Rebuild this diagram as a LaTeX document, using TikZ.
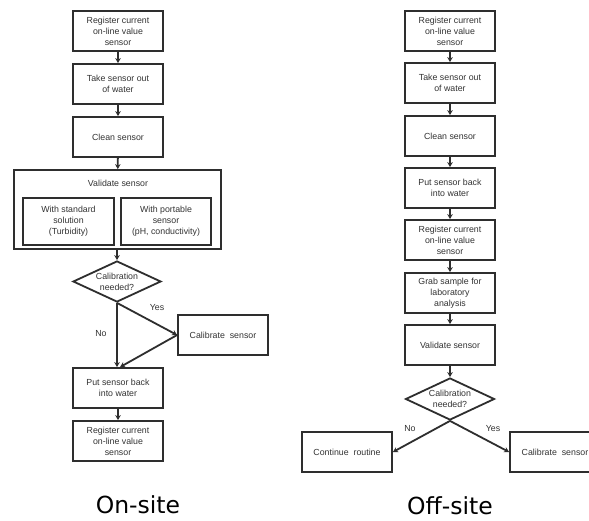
\documentclass[tikz,border=0pt]{standalone}
\usepackage{fontspec}
\setmainfont{Liberation Sans}
\newfontfamily\capfont{DejaVu Sans}
\usetikzlibrary{arrows.meta,shapes.geometric}
\definecolor{ln}{HTML}{2E2E2E}
\definecolor{tx}{HTML}{333333}
\tikzset{
  box/.style={draw=ln, line width=1.8pt, rectangle, minimum width=90pt, minimum height=40pt,
    inner sep=1pt, align=center, font=\fontsize{8.8}{11}\selectfont, text=tx},
  dia/.style={draw=ln, line width=1.8pt, diamond, minimum width=88pt, minimum height=41pt, inner sep=0pt},
  lbl/.style={font=\fontsize{8.8}{11}\selectfont, text=tx, align=center, inner sep=0pt},
  arr/.style={draw=ln, line width=1.8pt, -{Stealth[length=5pt,width=5.5pt]}},
  captext/.style={font=\capfont\fontsize{23.5}{27}\selectfont, text=black}
}
\begin{document}
\begin{tikzpicture}[x=1pt,y=-1pt]
\path[fill=white,use as bounding box] (0,0) rectangle (589,520);
% ---------- On-site ----------
\node[box] (l1) at (118,31) {Register current\\on-line value\\sensor};
\node[box] (l2) at (118,84) {Take sensor out\\of water};
\node[box] (l3) at (118,137) {Clean sensor};
\node[box, minimum width=207pt, minimum height=79pt] (lv) at (117.5,209.5) {};
\node[lbl] (lvt) at (118,183) {Validate sensor};
\node[box, minimum width=91pt, minimum height=47pt] (lva) at (68.5,221.5) {With standard\\solution\\(Turbidity)};
\node[box, minimum width=90pt, minimum height=47pt] (lvb) at (166,221.5) {With portable\\sensor\\(pH, conductivity)};
\node[dia, label={[lbl]center:Calibration\\needed?}] (ld) at (117,281.5) {};
\node[box] (lc) at (223,335) {Calibrate\ \ sensor};
\node[box] (l4) at (118,388) {Put sensor back\\into water};
\node[box] (l5) at (118,441) {Register current\\on-line value\\sensor};
\draw[arr] (l1) -- (l2);
\draw[arr] (l2) -- (l3);
\draw[arr] (l3) -- (lv);
\draw[arr] (lv.south -| ld.north) -- (ld.north);
\draw[arr] (ld.south) -- (ld.south |- l4.north);
\draw[arr] (ld.south) -- (lc.west);
\draw[arr] (lc.west) -- ([xshift=2pt]l4.north);
\draw[arr] (l4) -- (l5);
\node[lbl] (lyes) at (157,308) {Yes};
\node[lbl] (lno) at (101,334) {No};
\node[captext] (c1) at (138,505) {On-site};
% ---------- Off-site ----------
\node[box] (r1) at (450,31) {Register current\\on-line value\\sensor};
\node[box] (r2) at (450,83) {Take sensor out\\of water};
\node[box] (r3) at (450,136) {Clean sensor};
\node[box] (r4) at (450,188) {Put sensor back\\into water};
\node[box] (r5) at (450,240) {Register current\\on-line value\\sensor};
\node[box] (r6) at (450,293) {Grab sample for\\laboratory\\analysis};
\node[box] (r7) at (450,345) {Validate sensor};
\node[dia, minimum width=89pt, minimum height=42pt, label={[lbl]center:Calibration\\needed?}] (rd) at (450,399) {};
\node[box] (rc) at (347,452) {Continue\ \ routine};
\node[box] (rk) at (555,452) {Calibrate\ \ sensor};
\draw[arr] (r1) -- (r2);
\draw[arr] (r2) -- (r3);
\draw[arr] (r3) -- (r4);
\draw[arr] (r4) -- (r5);
\draw[arr] (r5) -- (r6);
\draw[arr] (r6) -- (r7);
\draw[arr] (r7) -- (rd);
\draw[arr] (rd.south) -- (rc.east);
\draw[arr] (rd.south) -- (rk.west);
\node[lbl] (rno) at (410,429) {No};
\node[lbl] (ryes) at (493,429) {Yes};
\node[captext] (c2) at (450,506) {Off-site};
\end{tikzpicture}
\end{document}
